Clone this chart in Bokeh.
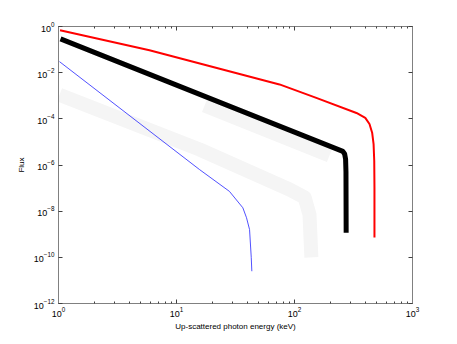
from bokeh.plotting import figure
from bokeh.models import LogAxis, FixedTicker, Range1d
from bokeh.embed import file_html
from bokeh.resources import INLINE

# data (energy in keV, flux)
red_e = [1.03, 5.9, 74.6, 153, 335, 398, 432, 455, 468, 474, 476, 476]
red_f = [0.69, 0.093, 3.1e-3, 8.1e-4, 1.8e-4, 1.1e-4, 6.0e-5, 2.5e-5, 8e-6, 1.5e-6, 1e-7, 7.2e-10]

black_e = [1.04, 257, 266, 271, 273, 274]
black_f = [0.29, 3.9e-6, 3.0e-6, 1.8e-6, 5e-7, 1.15e-9]

blue_e = [1.02, 15.7, 28.1, 36.5, 39.2, 41.6, 43.0, 43.5]
blue_f = [0.030, 6.3e-7, 7.2e-8, 1.4e-8, 5.2e-9, 1.6e-9, 1e-10, 2.5e-11]

band1_e = [1.02, 15.7, 90.8, 122, 134, 139]
band1_f = [1.1e-3, 4.7e-6, 8.7e-8, 3.9e-8, 7.1e-9, 1e-10]

band2_e = [17.3, 198]
band2_f = [3.8e-4, 2.6e-6]

x_ticks = [1, 10, 100, 1000]
x_minor = [m * d for d in (1, 10, 100) for m in range(2, 10)]
y_ticks = [1e-12, 1e-10, 1e-8, 1e-6, 1e-4, 1e-2, 1]

W, H = 449, 340
p = figure(width=W, height=H, x_axis_type="log", y_axis_type="log",
           x_range=Range1d(1, 1000), y_range=Range1d(1e-12, 1),
           output_backend="svg", toolbar_location=None,
           min_border_left=58, min_border_right=37,
           min_border_top=26, min_border_bottom=37)
p.xgrid.visible = False
p.ygrid.visible = False
p.background_fill_color = "white"
p.border_fill_color = "white"
p.outline_line_color = "#808080"

band_col = "#f5f5f5"
p.line(band1_e, band1_f, line_color=band_col, line_width=14, line_join="round")
p.line(band2_e, band2_f, line_color=band_col, line_width=14)
p.line(blue_e, blue_f, line_color="#3333ff", line_width=1, line_alpha=0.85)
p.line(black_e, black_f, line_color="black", line_width=5, line_join="round")
p.line(red_e, red_f, line_color="red", line_width=2, line_join="round")

font = "Liberation Sans"

def style(ax, labels=True):
    ax.axis_line_color = "#808080"
    ax.major_tick_line_color = "#404040"
    ax.minor_tick_line_color = "#404040"
    ax.major_tick_in = 4
    ax.major_tick_out = 0
    ax.minor_tick_in = 2
    ax.minor_tick_out = 0
    ax.major_label_text_font = font
    ax.major_label_text_font_size = "9px"
    ax.major_label_text_color = "black"
    ax.axis_label_text_font = font
    ax.axis_label_text_font_size = "8px"
    ax.axis_label_text_font_style = "normal"
    ax.axis_label_text_color = "black"
    if not labels:
        ax.major_label_text_font_size = "0px"
        ax.major_label_text_alpha = 0
        ax.major_label_standoff = 0

xt = FixedTicker(ticks=x_ticks, minor_ticks=x_minor)
yt = FixedTicker(ticks=y_ticks, minor_ticks=[])

p.xaxis.ticker = xt
p.yaxis.ticker = yt
p.xaxis.axis_label = "Up-scattered photon energy (keV)"
p.yaxis.axis_label = "Flux"
for ax in p.xaxis + p.yaxis:
    style(ax)
p.xaxis.major_label_standoff = 3
p.xaxis.axis_label_standoff = 2
p.yaxis.major_label_standoff = 4
p.yaxis.axis_label_standoff = 5

top = LogAxis(ticker=FixedTicker(ticks=x_ticks, minor_ticks=x_minor))
style(top, labels=False)
right = LogAxis(ticker=FixedTicker(ticks=y_ticks, minor_ticks=[]))
style(right, labels=False)
p.add_layout(top, "above")
p.add_layout(right, "right")

open("out.html", "w").write(file_html(p, INLINE))
